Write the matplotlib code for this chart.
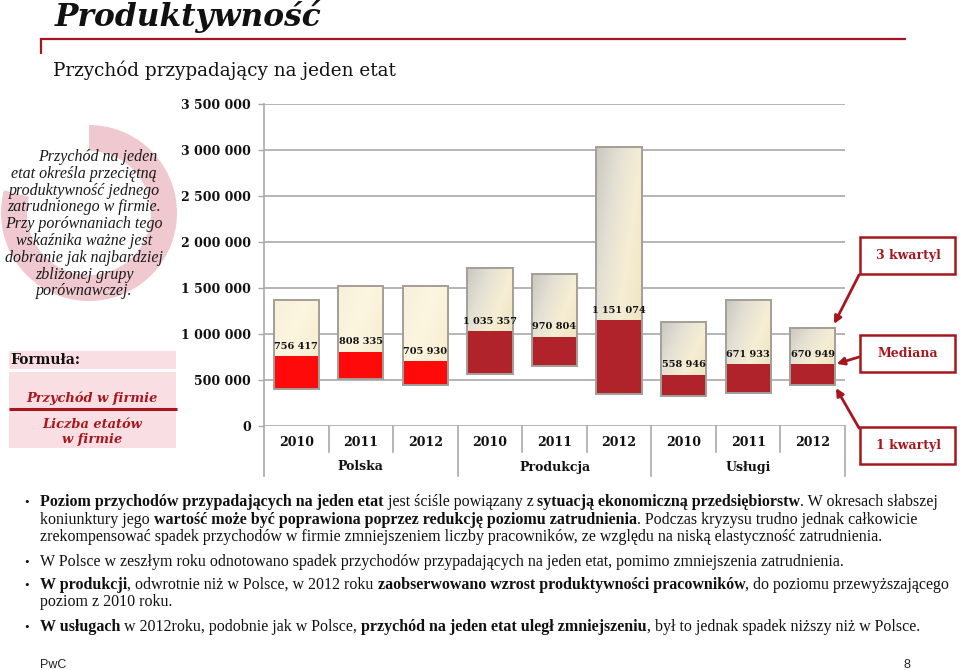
import os
import numpy as np
import matplotlib
matplotlib.use("Agg")
import matplotlib.pyplot as plt
from matplotlib.patches import Rectangle, Wedge
from matplotlib.font_manager import FontProperties, findSystemFonts, fontManager
from matplotlib.colors import LinearSegmentedColormap

# ---------------- data ----------------
years = ["2010", "2011", "2012", "2010", "2011", "2012", "2010", "2011", "2012"]
groups = ["Polska", "Produkcja", "Usługi"]
q1_values = [402000, 511000, 446000, 565000, 652000, 348000, 326000, 359000, 446000]
median_values = [756417, 808335, 705930, 1035357, 970804, 1151074, 558946, 671933, 670949]
q3_values = [1370000, 1520000, 1520000, 1717000, 1652000, 3033000, 1130000, 1370000, 1065000]
y_ticks = [0, 500000, 1000000, 1500000, 2000000, 2500000, 3000000, 3500000]
y_tick_labels = ["0", "500 000", "1 000 000", "1 500 000", "2 000 000",
                 "2 500 000", "3 000 000", "3 500 000"]
legend_labels = ["3 kwartyl", "Mediana", "1 kwartyl"]

title = "Produktywność"
subtitle = "Przychód przypadający na jeden etat"
side_note = ["Przychód na jeden", "etat określa przeciętną", "produktywność jednego",
             "zatrudnionego w firmie.", "Przy porównaniach tego", "wskaźnika ważne jest",
             "dobranie jak najbardziej", "zbliżonej grupy", "porównawczej."]
formula_label = "Formuła:"
formula_num = "Przychód w firmie"
formula_den = ["Liczba etatów", "w firmie"]

bullet_lines = [
    (True, [("Poziom przychodów przypadających na jeden etat", True),
            (" jest ściśle powiązany z ", False),
            ("sytuacją ekonomiczną przedsiębiorstw", True),
            (". W okresach słabszej", False)]),
    (False, [("koniunktury jego ", False),
             ("wartość może być poprawiona poprzez redukcję poziomu zatrudnienia", True),
             (". Podczas kryzysu trudno jednak całkowicie", False)]),
    (False, [("zrekompensować spadek przychodów w firmie zmniejszeniem liczby pracowników, "
              "ze względu na niską elastyczność zatrudnienia.", False)]),
    (True, [("W Polsce w zeszłym roku odnotowano spadek przychodów przypadających na jeden "
             "etat, pomimo zmniejszenia zatrudnienia.", False)]),
    (True, [("W produkcji", True), (", odwrotnie niż w Polsce, w 2012 roku ", False),
            ("zaobserwowano wzrost produktywności pracowników", True),
            (", do poziomu przewyższającego", False)]),
    (False, [("poziom z 2010 roku.", False)]),
    (True, [("W usługach", True), (" w 2012roku, podobnie jak w Polsce, ", False),
            ("przychód na jeden etat uległ zmniejszeniu", True),
            (", był to jednak spadek niższy niż w Polsce.", False)]),
]
bullet_y = [506, 524, 541, 566, 589, 606, 631]

# ---------------- colours ----------------
DARK_RED = "#A8161D"
RED_POL = "#FF0A0A"
RED_OTH = "#B0232A"
PINK = "#F9DFE3"
RING = "#F0C9D0"
GRID = "#A9A9A9"

# ---------------- fonts ----------------
SERIF = "DejaVu Serif"
PARA = "Liberation Serif"

W, H = 960, 670
fig = plt.figure(figsize=(9.6, 6.7), dpi=100)
R = fig.canvas.get_renderer()

ax_bg = fig.add_axes([0, 0, 1, 1], zorder=0)
ax_bg.set_xlim(0, W)
ax_bg.set_ylim(H, 0)
ax_bg.axis("off")


def fp(family=SERIF, size=10, weight="normal", style="normal"):
    return FontProperties(family=family, size=size, weight=weight, style=style)


def tw(s, prop):
    t = ax_bg.text(0, 0, s, fontproperties=prop)
    w = t.get_window_extent(renderer=R).width
    t.remove()
    return w


def seg_w(s, prop):
    return tw("x" + s + "x", prop) - tw("xx", prop)


def fit(s, prop, target):
    p = prop.copy()
    p.set_size(10)
    w = tw(s, p)
    p.set_size(10 * target / w)
    return p


# ---------------- header ----------------
tprop = fit(title, fp(SERIF, 20, "bold", "italic"), 267)
ax_bg.text(55, 26, title, fontproperties=tprop, color="#111111", va="baseline", ha="left")
ax_bg.plot([40, 906], [38.5, 38.5], color=DARK_RED, lw=1.6, solid_capstyle="butt")
ax_bg.plot([40.5, 40.5], [38, 54], color=DARK_RED, lw=1.6, solid_capstyle="butt")
sprop = fit(subtitle, fp(SERIF, 13), 345)
ax_bg.text(53, 76, subtitle, fontproperties=sprop, color="#111111", va="baseline", ha="left")

# ---------------- ring + side note ----------------
ax_bg.add_patch(Wedge((89, 213), 88, -90, 195, width=26, facecolor=RING, edgecolor="none"))
nprop = fit("dobranie jak najbardziej", fp(PARA, 11, "normal", "italic"), 158)
for i, line in enumerate(side_note):
    yb = 161 + i * 16.8
    if i == 0:
        ax_bg.text(157, yb, line, fontproperties=nprop, color="#1a1a1a", ha="right", va="baseline")
    else:
        ax_bg.text(84, yb, line, fontproperties=nprop, color="#1a1a1a", ha="center", va="baseline")

# ---------------- formula ----------------
ax_bg.add_patch(Rectangle((9, 351), 167, 18, facecolor=PINK, edgecolor="none"))
ax_bg.add_patch(Rectangle((9, 372), 167, 76, facecolor=PINK, edgecolor="none"))
ax_bg.plot([9, 177], [409, 409], color=DARK_RED, lw=2.2, solid_capstyle="butt")
ax_bg.text(10, 364.5, formula_label, fontproperties=fit(formula_label, fp(SERIF, 9, "bold"), 70),
           color="#111111", ha="left", va="baseline")
fprop = fit(formula_num, fp(SERIF, 9, "bold", "italic"), 131)
ax_bg.text(92, 402, formula_num, fontproperties=fprop, color=DARK_RED, ha="center", va="baseline")
ax_bg.text(92, 428, formula_den[0], fontproperties=fprop, color=DARK_RED, ha="center", va="baseline")
ax_bg.text(92, 443, formula_den[1], fontproperties=fprop, color=DARK_RED, ha="center", va="baseline")

# ---------------- chart ----------------
L, T, Rr, B = 264, 104, 845, 426
ax = fig.add_axes([L / W, 1 - B / H, (Rr - L) / W, (B - T) / H], zorder=2)
ax.set_facecolor("none")
n = len(years)
xs = np.arange(n)
bw = 0.70

grey_cmap = LinearSegmentedColormap.from_list("g", ["#C9C7C0", "#E4E0D4", "#F6EED3", "#EFE4C4"])
cream_cmap = LinearSegmentedColormap.from_list("c", ["#F7F0DA", "#FCF5DF", "#F6ECCF"])
gu, gv = np.meshgrid(np.linspace(0, 1, 60), np.linspace(0, 1, 120))

for i in range(n):
    x0 = xs[i] - bw / 2
    low_col = RED_POL if i < 3 else RED_OTH
    ax.add_patch(Rectangle((x0, q1_values[i]), bw, median_values[i] - q1_values[i],
                           facecolor=low_col, edgecolor="none", zorder=2))
    top_rect = Rectangle((x0, median_values[i]), bw, q3_values[i] - median_values[i],
                         facecolor="none", edgecolor="none", zorder=2)
    ax.add_patch(top_rect)
    grad = 0.65 * gu + 0.35 * gv
    im = ax.imshow(grad, cmap=cream_cmap if i < 3 else grey_cmap, origin="upper",
                   extent=(x0, x0 + bw, median_values[i], q3_values[i]),
                   aspect="auto", zorder=2, interpolation="bilinear")
    im.set_clip_path(top_rect)
    ax.add_patch(Rectangle((x0, q1_values[i]), bw, q3_values[i] - q1_values[i],
                           facecolor="none", edgecolor="#A39F98", lw=1.4, zorder=3))
    lab = f"{median_values[i]:,}".replace(",", " ")
    ax.annotate(lab, (xs[i], median_values[i]), xytext=(0, 7), textcoords="offset points",
                ha="center", va="center", fontproperties=fp(SERIF, 7, "bold"),
                color="#111111", zorder=4)

ax.set_xlim(-0.5, n - 0.5)
ax.set_ylim(0, 3500000)
ax.set_yticks(y_ticks, labels=y_tick_labels)
for t in ax.get_yticklabels():
    t.set_fontproperties(fp(SERIF, 9, "bold"))
    t.set_color("#111111")
ax.set_xticks([])
ax.tick_params(axis="y", length=6 * 0.72, width=1, color=GRID, pad=5)
ax.grid(axis="y", color=GRID, lw=1.2, zorder=0)
ax.set_axisbelow(True)
for s in ["top", "right", "bottom"]:
    ax.spines[s].set_visible(False)
ax.spines["left"].set_color(GRID)
ax.spines["left"].set_linewidth(1.2)

# category table below the axis
tr = ax.get_xaxis_transform()
axh = B - T
row_bot = -(452 - B) / axh
grp_bot = -(476 - B) / axh
for b in np.arange(-0.5, n, 1.0):
    full = b in (-0.5, 2.5, 5.5, n - 0.5)
    ax.plot([b, b], [0, grp_bot if full else row_bot], transform=tr, color=GRID,
            lw=1.2, clip_on=False, zorder=1)
for i in range(n):
    ax.text(xs[i], -(443 - B) / axh, years[i], transform=tr, ha="center", va="center",
            fontproperties=fp(SERIF, 9, "bold"), color="#111111")
for g, name in enumerate(groups):
    ax.text(g * 3 + 1, -(467 - B) / axh, name, transform=tr, ha="center", va="center",
            fontproperties=fp(SERIF, 9, "bold"), color="#111111")

# ---------------- legend boxes + arrows ----------------
box_tops = [237, 335, 427]
lprop = fp(SERIF, 9, "bold")
for lab, top in zip(legend_labels, box_tops):
    ax_bg.add_patch(Rectangle((860, top), 95, 37, facecolor="white", edgecolor=DARK_RED, lw=1.8))
    ax_bg.text(908, top + 18.5, lab, fontproperties=lprop, color=DARK_RED, ha="center", va="center")

last = n - 1
arrow_targets = [(xs[last] + bw / 2 - 0.03, q3_values[last] + 30000),
                 (xs[last] + bw / 2, median_values[last]),
                 (xs[last] + bw / 2, q1_values[last] - 20000)]
arrow_starts = [(859, 275), (859, 357), (859, 428)]
for tgt, st in zip(arrow_targets, arrow_starts):
    ax.annotate("", xy=tgt, xycoords="data", xytext=st, textcoords=ax_bg.transData,
                arrowprops=dict(arrowstyle="-|>", color=DARK_RED, lw=2.0, mutation_scale=11,
                                shrinkA=0, shrinkB=1),
                annotation_clip=False, zorder=5)

# ---------------- bullet text ----------------
reg = fp(PARA, 10, "normal")
bold = fp(PARA, 10, "bold")
w1 = sum(seg_w(s, bold if b else reg) for s, b in bullet_lines[0][1])
size = 10 * 905 / w1
reg.set_size(size)
bold.set_size(size)
for (has_bullet, segs), yb in zip(bullet_lines, bullet_y):
    if has_bullet:
        ax_bg.text(24, yb, "•", fontproperties=fp(PARA, size * 0.8), color="#111111",
                   ha="left", va="baseline")
    cur = 40
    for s, b in segs:
        p = bold if b else reg
        ax_bg.text(cur, yb, s, fontproperties=p, color="#111111", ha="left", va="baseline")
        cur += seg_w(s, p)

ax_bg.text(40, 668, "PwC", fontproperties=fp("Liberation Sans", 9), color="#222222",
           ha="left", va="baseline")
ax_bg.text(903, 668, "8", fontproperties=fp("Liberation Sans", 9), color="#222222",
           ha="left", va="baseline")

fig.savefig("out.png", dpi=100)
